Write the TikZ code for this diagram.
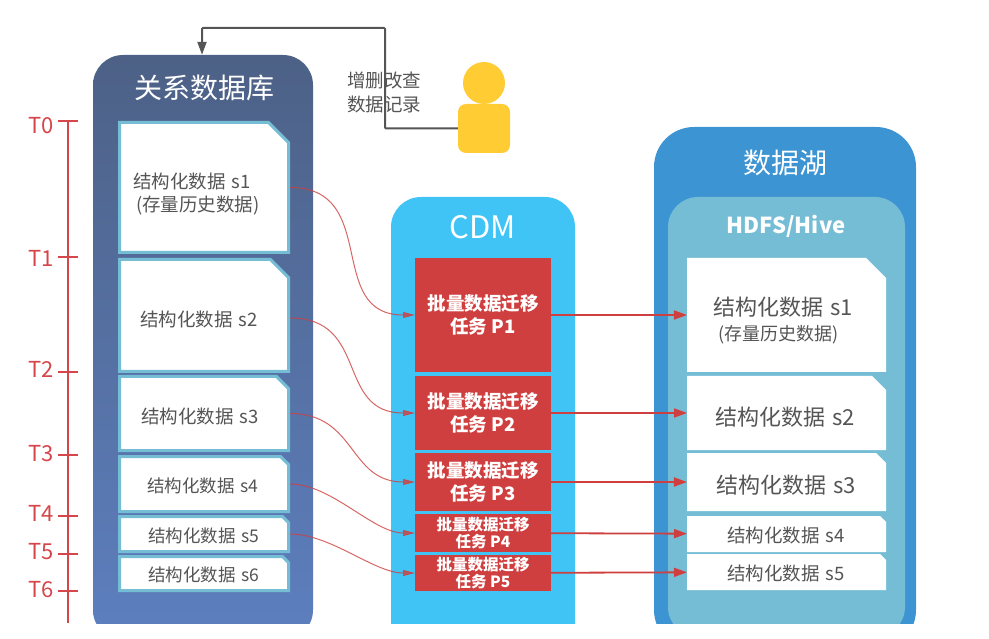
\documentclass[tikz,border=0pt]{standalone}
\usepackage{fontspec}
\setmainfont{Noto Sans CJK SC}
\usepackage{xcolor}
\usetikzlibrary{shapes.misc, arrows.meta, positioning, calc}
\definecolor{dbtop}{RGB}{77,97,134}
\definecolor{dbbot}{RGB}{93,127,191}
\definecolor{cdmblue}{RGB}{64,196,246}
\definecolor{lakeblue}{RGB}{61,148,210}
\definecolor{hdfsblue}{RGB}{117,189,213}
\definecolor{taskred}{RGB}{207,63,63}
\definecolor{timered}{RGB}{214,69,73}
\definecolor{textgrey}{RGB}{85,85,85}
\definecolor{personyellow}{RGB}{255,204,51}
\newcommand{\fs}[1]{\fontsize{#1}{#1}\selectfont}

\begin{document}
\begin{tikzpicture}[
    x=1pt, y=-1pt,
    node distance=0pt,
    column/.style={rectangle, inner sep=0pt},
    title/.style={text=white, inner sep=0pt},
    doc/.style={chamfered rectangle, chamfered rectangle corners=north east,
                chamfered rectangle xsep=#1, chamfered rectangle ysep=#1,
                fill=white, inner sep=0pt, text=textgrey},
    dbdoc/.style={doc=#1, draw=hdfsblue, line width=3pt, minimum width=169pt, align=left},
    lakedoc/.style={doc=#1, minimum width=199pt, outer sep=0pt, align=left},
    drop/.style={execute at begin node={\rule{0pt}{#1}}},
    task/.style={rectangle, fill=taskred, inner sep=0pt, outer sep=0pt, minimum width=136pt,
                 align=center, text=white, font=\fs{18.5}\bfseries},
    moved/.style={-{Triangle[length=12pt, width=6pt]}, line width=1pt, taskred, opacity=.8},
    load/.style={-{Triangle[length=13pt, width=9pt]}, line width=1.8pt, taskred},
    tick/.style={timered, line width=2pt},
]
    \useasboundingbox (0,0) rectangle (989,639);

    % columns run off the cut at the bottom
    \begin{scope}
        \clip (0,0) rectangle (989,623);
        \node[column, top color=dbtop, bottom color=dbbot, rounded corners=30pt,
              minimum width=220pt, minimum height=585pt] (db) at (203,347.5) {};
        \node[column, fill=cdmblue, rounded corners=30pt,
              minimum width=184pt, minimum height=500pt] (cdm) at (483,447) {};
        \node[column, fill=lakeblue, rounded corners=40pt,
              minimum width=262pt, minimum height=523pt] (lake) at (785,388.5) {};
        \node[column, fill=hdfsblue, rounded corners=30pt,
              minimum width=237pt, minimum height=440pt] (hdfs) at (786.5,417) {};
    \end{scope}

    \node[title, font=\fs{28}] at (204,88) (dbtitle) {关系数据库};
    \node[title, font=\fs{31}] at (483,227) (cdmtitle) {CDM};
    \node[title, font=\fs{28}] at (785,163) (laketitle) {数据湖};
    \node[title, font=\fs{22}\bfseries] at (786,226) (hdfstitle) {HDFS/Hive};

    % source tables
    \node[dbdoc=10pt, minimum height=130pt, font=\fs{18.5}, text width=142pt, drop=29pt] (s1) at (204,187.5) {结构化数据 s1\\[5pt]\,(存量历史数据)};
    \node[dbdoc=9pt, minimum height=112pt, font=\fs{18.5}, text width=128pt, drop=24pt, below=4pt of s1] (s2) {结构化数据 s2};
    \node[dbdoc=6pt, minimum height=74pt, font=\fs{18.5}, text width=126pt, drop=22pt, below=2pt of s2] (s3) {结构化数据 s3};
    \node[dbdoc=4pt, minimum height=55pt, font=\fs{17.5}, text width=114pt, drop=18pt, below=3pt of s3] (s4) {结构化数据 s4};
    \node[dbdoc=3pt, minimum height=35pt, font=\fs{17.5}, text width=112pt, drop=18pt, below=2pt of s4] (s5) {结构化数据 s5};
    \node[dbdoc=3pt, minimum height=34pt, font=\fs{17.5}, text width=112pt, drop=17pt, below=2pt of s5] (s6) {结构化数据 s6};

    % migration tasks
    \node[task, minimum height=114pt] (p1) at (483,315) {批量数据迁移\\[4pt]任务 P1};
    \node[task, minimum height=74pt, below=4pt of p1] (p2) {批量数据迁移\\[4pt]任务 P2};
    \node[task, minimum height=58pt, below=3pt of p2] (p3) {批量数据迁移\\[4pt]任务 P3};
    \node[task, minimum height=38pt, below=3pt of p3, font=\fs{15.5}\bfseries] (p4) {批量数据迁移\\[2pt]任务 P4};
    \node[task, minimum height=36pt, below=3pt of p4, font=\fs{15.5}\bfseries] (p5) {批量数据迁移\\[2pt]任务 P5};

    % lake tables
    \node[lakedoc=10pt, minimum height=114pt, font=\fs{22}, text width=147pt, drop=29pt] (h1) at (786.5,315) {结构化数据 s1\\[3pt]\hspace*{5pt}{\fs{18}(存量历史数据)}};
    \node[lakedoc=7pt, minimum height=74pt, font=\fs{22}, text width=143pt, drop=27pt, below=4pt of h1] (h2) {结构化数据 s2};
    \node[lakedoc=5pt, minimum height=58pt, font=\fs{22}, text width=141pt, drop=25pt, below=3pt of h2] (h3) {结构化数据 s3};
    \node[lakedoc=3pt, minimum height=36pt, font=\fs{18.5}, text width=119pt, drop=18pt, below=5pt of h3] (h4) {结构化数据 s4};
    \node[lakedoc=3pt, minimum height=36pt, font=\fs{18.5}, text width=119pt, drop=18pt, below=2pt of h4] (h5) {结构化数据 s5};

    % person
    \node[circle, fill=personyellow, minimum size=42pt, inner sep=0pt] (head) at (484,83) {};
    \node[rectangle, fill=personyellow, rounded corners=8pt, inner sep=0pt,
          minimum width=52pt, minimum height=49pt] (body) at (484,128.5) {};
    \coordinate (turn) at (385,28);
    \draw[-{Triangle[length=13pt, width=9pt]}, line width=2pt, textgrey, rounded corners=1pt]
        (body.west) -| (turn) -| ([xshift=-1pt]db.north);
    \node[anchor=west, align=left, text=textgrey, font=\fs{18.5}, inner sep=0pt] (crud) at (347,92.5) {增删改查\\[5pt]数据记录};

    % time axis
    \coordinate (axistop) at (68,121);
    \coordinate (axisbot) at (68,623);
    \draw[timered, line width=2.5pt] (axistop) -- (axisbot);
    \foreach \name/\ypos/\ylab in {0/121/126, 1/257/258, 2/372/369, 3/454.5/454, 4/515.5/513, 5/553.5/552, 6/590.5/590} {
        \coordinate (tick\name) at (68,\ypos);
        \draw[tick] ([xshift=-10pt]tick\name) -- ([xshift=10pt]tick\name);
        \node[text=timered, font=\fs{22}, inner sep=0pt] (t\name) at (41,\ylab) {T\name};
    }

    % data flow
    \draw[moved] (s1.center -| s1.south east) to[out=0, in=180, looseness=1.3] (p1.west);
    \draw[moved] ([yshift=-2.5pt]s2.center -| s2.south east) to[out=0, in=180, looseness=1.3] (p2.west);
    \draw[moved] (s3.center -| s3.south east) to[out=0, in=180, looseness=1.2] (p3.west);
    \draw[moved] (s4.center -| s4.south east) to[out=0, in=180, looseness=.8] (p4.west);
    \draw[moved] (s5.center -| s5.south east) to[out=0, in=180, looseness=.8] (p5.west);

    \draw[load] (p1) -- (h1);
    \draw[load] (p2) -- (h2);
    \draw[load] (p3) -- (h3);
    \draw[load] (p4) -- (h4);
    \draw[load] (p5) -- (h5);
\end{tikzpicture}
\end{document}
